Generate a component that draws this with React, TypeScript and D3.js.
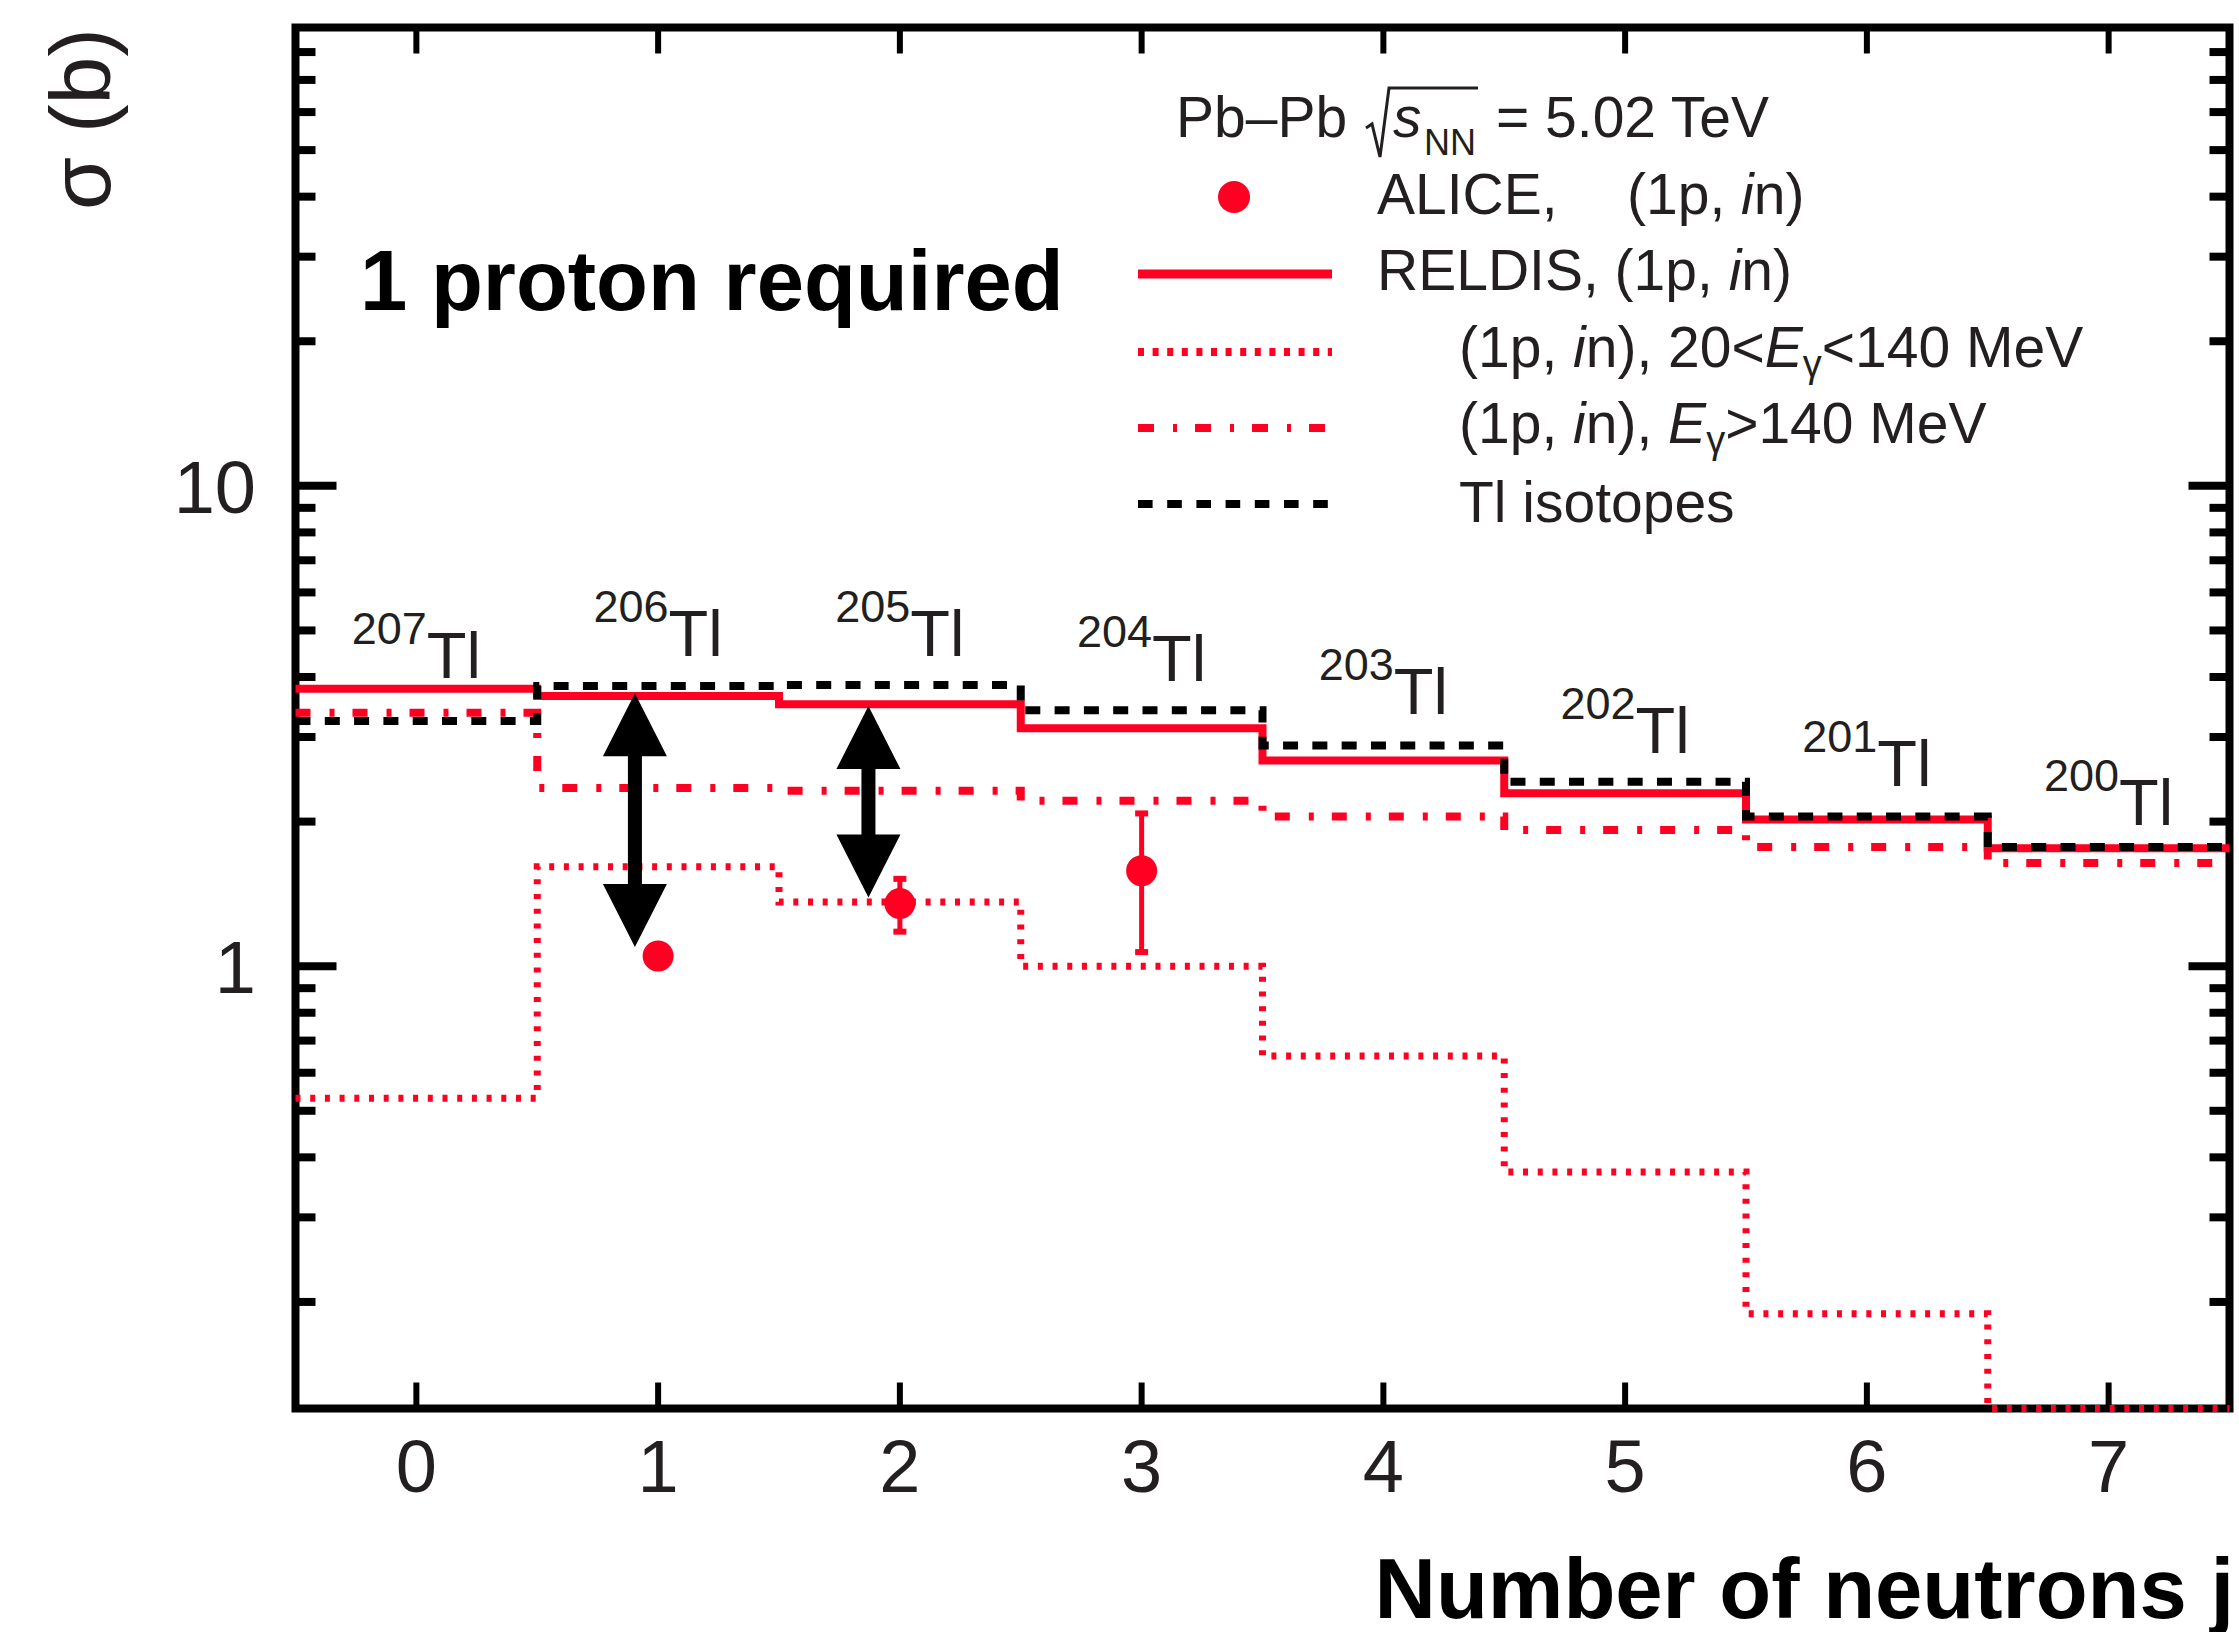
import React from "react";
import * as d3 from "d3";

// ---------- data ----------
const binsJ = [0, 1, 2, 3, 4, 5, 6, 7];
const xTickLabels = ["0", "1", "2", "3", "4", "5", "6", "7"];
const reldisTotal = [3.78, 3.65, 3.51, 3.13, 2.68, 2.29, 2.02, 1.76];
const reldisLowE = [0.531, 1.61, 1.36, 1.0, 0.65, 0.373, 0.189, 0.1];
const reldisHighE = [3.37, 2.35, 2.32, 2.21, 2.05, 1.92, 1.77, 1.64];
const tlIsotopes = [3.24, 3.83, 3.85, 3.41, 2.88, 2.42, 2.05, 1.77];

const aliceJ = [1, 2, 3];
const aliceSigma = [1.05, 1.35, 1.58];
const aliceErrLow = [0, 0.17, 0.51];
const aliceErrHigh = [0, 0.17, 0.5];

const isotopeMass = ["207", "206", "205", "204", "203", "202", "201", "200"];
const isotopeLabelSigma = [3.98, 4.42, 4.42, 3.93, 3.35, 2.78, 2.37, 1.97];

const arrowJ = [0.904, 1.87];
const arrowTop = [3.7, 3.48];
const arrowBottom = [1.096, 1.39];

const yMajorTicks = [1, 10];
const yMajorLabels = ["1", "10"];
const yMinorTicks = [0.2, 0.3, 0.4, 0.5, 0.6, 0.7, 0.8, 0.9, 2, 3, 4, 5, 6, 7, 8, 9, 20, 30, 40, 50, 60, 70, 80];

// ---------- style ----------
const RED = "#ff0022";
const TXT = "#231f20";
const FONT = "'Liberation Sans', Arial, Helvetica, sans-serif";

const W = 2239;
const H = 1632;
const L = 295.5, R = 2229.5, T = 27.5, B = 1408.5;

export default function App() {
  const x = d3.scaleLinear().domain([-0.5, 7.5]).range([L, R]);
  const y = d3.scaleLog().domain([0.12, 90]).range([B, T]).clamp(true);

  const stepPath = (vals: number[]) => {
    const pts: [number, number][] = [];
    vals.forEach((v, i) => {
      pts.push([binsJ[i] - 0.5, v]);
      pts.push([binsJ[i] + 0.5, v]);
    });
    return d3
      .line<[number, number]>()
      .x((d) => x(d[0]))
      .y((d) => y(d[1]))(pts) as string;
  };

  const arrowPath = (j: number, top: number, bot: number) => {
    const cx = x(j);
    const yt = y(top);
    const yb = y(bot);
    const hl = 63, hw = 32, sw = 7;
    return [
      `M${cx},${yt} L${cx + hw},${yt + hl} L${cx + sw},${yt + hl} L${cx + sw},${yb - hl} L${cx + hw},${yb - hl}`,
      `L${cx},${yb} L${cx - hw},${yb - hl} L${cx - sw},${yb - hl} L${cx - sw},${yt + hl} L${cx - hw},${yt + hl} Z`,
    ].join(" ");
  };

  return (
    <svg
      width={W}
      height={H}
      viewBox={`0 0 ${W} ${H}`}
      style={{ position: "absolute", left: 0, top: 0, background: "#fff" }}
      fontFamily={FONT}
    >
      <rect x={0} y={0} width={W} height={H} fill="#fff" />

      {/* y axis title */}
      <text
        transform={`translate(110,28) rotate(-90)`}
        textAnchor="end"
        fontSize={86}
        fill={TXT}
      >
        σ (b)
      </text>

      {/* ticks */}
      <g stroke="#000">
        {yMajorTicks.map((t) => (
          <g key={"ym" + t} strokeWidth={8}>
            <line x1={L} x2={L + 41} y1={y(t)} y2={y(t)} />
            <line x1={R} x2={R - 41} y1={y(t)} y2={y(t)} />
          </g>
        ))}
        {yMinorTicks.map((t) => (
          <g key={"yn" + t} strokeWidth={8}>
            <line x1={L} x2={L + 20} y1={y(t)} y2={y(t)} />
            <line x1={R} x2={R - 20} y1={y(t)} y2={y(t)} />
          </g>
        ))}
        {binsJ.map((j) => (
          <g key={"xt" + j} strokeWidth={6}>
            <line x1={x(j)} x2={x(j)} y1={B} y2={B - 26} />
            <line x1={x(j)} x2={x(j)} y1={T} y2={T + 26} />
          </g>
        ))}
      </g>
      <rect x={L} y={T} width={R - L} height={B - T} fill="none" stroke="#000" strokeWidth={8} />

      {/* tick labels */}
      {binsJ.map((j, i) => (
        <text key={"xl" + j} x={x(j)} y={1492} textAnchor="middle" fontSize={74} fill={TXT}>
          {xTickLabels[i]}
        </text>
      ))}
      {yMajorTicks.map((t, i) => (
        <text key={"yl" + t} x={256} y={y(t) + 27} textAnchor="end" fontSize={74} fill={TXT}>
          {yMajorLabels[i]}
        </text>
      ))}

      {/* x axis title */}
      <text x={2234} y={1618} textAnchor="end" fontSize={85} fontWeight="bold" fill="#000">
        Number of neutrons j
      </text>

      {/* histograms */}
      <path d={stepPath(reldisLowE)} fill="none" stroke={RED} strokeWidth={7} strokeDasharray="5 9.7" />
      <path d={stepPath(reldisHighE)} fill="none" stroke={RED} strokeWidth={8} strokeDasharray="15 19 5 18" />
      <path d={stepPath(reldisTotal)} fill="none" stroke={RED} strokeWidth={8} />
      <path d={stepPath(tlIsotopes)} fill="none" stroke="#000" strokeWidth={8} strokeDasharray="15 14.3" />

      {/* ALICE points */}
      {aliceJ.map((j, i) => {
        const cx = x(j);
        const v = aliceSigma[i];
        const hi = v + aliceErrHigh[i];
        const lo = v - aliceErrLow[i];
        const hasErr = aliceErrHigh[i] > 0;
        return (
          <g key={"a" + j}>
            {hasErr && (
              <g stroke={RED}>
                <line x1={cx} x2={cx} y1={y(hi)} y2={y(lo)} strokeWidth={5} />
                <line x1={cx - 6.5} x2={cx + 6.5} y1={y(hi)} y2={y(hi)} strokeWidth={6} />
                <line x1={cx - 6.5} x2={cx + 6.5} y1={y(lo)} y2={y(lo)} strokeWidth={6} />
              </g>
            )}
            <circle cx={cx} cy={y(v)} r={15.5} fill={RED} />
          </g>
        );
      })}

      {/* arrows */}
      {arrowJ.map((j, i) => (
        <path key={"ar" + i} d={arrowPath(j, arrowTop[i], arrowBottom[i])} fill="#000" />
      ))}

      {/* isotope labels */}
      {binsJ.map((j, i) => (
        <text key={"iso" + j} x={x(j)} y={y(isotopeLabelSigma[i])} textAnchor="middle" fill={TXT}>
          <tspan fontSize={45} dy={-33.7}>{isotopeMass[i]}</tspan>
          <tspan fontSize={65} dy={33.7}>Tl</tspan>
        </text>
      ))}

      {/* 1 proton required */}
      <text x={360} y={310} fontSize={85} fontWeight="bold" fill="#000">
        1 proton required
      </text>

      {/* legend */}
      <g fill={TXT} fontSize={57}>
        <text x={1176} y={137}>Pb–Pb</text>
        <path d="M1366,128 L1372,124 L1380,157 L1389,88 L1478,88" fill="none" stroke={TXT} strokeWidth={3} />
        <text x={1393} y={137} fontStyle="italic">s</text>
        <text x={1424} y={155} fontSize={36}>NN</text>
        <text x={1496} y={137}>= 5.02 TeV</text>

        <circle cx={1234} cy={197} r={16} fill={RED} />
        <text x={1377} y={214}>ALICE,</text>
        <text x={1627} y={214}>
          (1p, <tspan fontStyle="italic">i</tspan>n)
        </text>

        <line x1={1138} x2={1332} y1={274} y2={274} stroke={RED} strokeWidth={9} />
        <text x={1377} y={290}>
          RELDIS, (1p, <tspan fontStyle="italic">i</tspan>n)
        </text>

        <line x1={1138} x2={1332} y1={352} y2={352} stroke={RED} strokeWidth={8} strokeDasharray="6 8.6" />
        <text x={1459} y={367}>
          (1p, <tspan fontStyle="italic">i</tspan>n), 20&lt;<tspan fontStyle="italic">E</tspan>
          <tspan fontSize={38} dy={10}>γ</tspan>
          <tspan dy={-10}>&lt;140 MeV</tspan>
        </text>

        <line x1={1138} x2={1332} y1={428} y2={428} stroke={RED} strokeWidth={8} strokeDasharray="16 19 4 18" />
        <text x={1459} y={443}>
          (1p, <tspan fontStyle="italic">i</tspan>n), <tspan fontStyle="italic">E</tspan>
          <tspan fontSize={38} dy={10}>γ</tspan>
          <tspan dy={-10}>&gt;140 MeV</tspan>
        </text>

        <line x1={1138} x2={1332} y1={504} y2={504} stroke="#000" strokeWidth={8} strokeDasharray="14.6 14.6" />
        <text x={1459} y={522}>Tl isotopes</text>
      </g>
    </svg>
  );
}
